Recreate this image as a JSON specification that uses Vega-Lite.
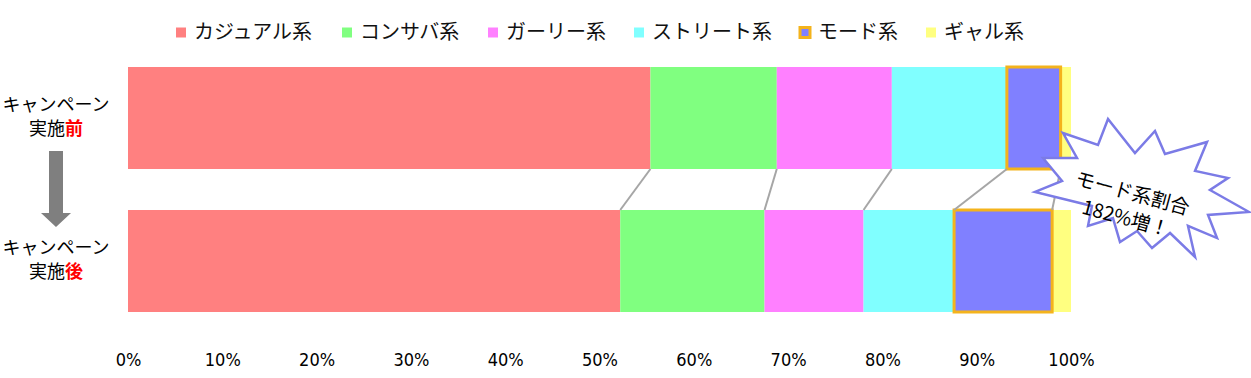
{
  "$schema": "https://vega.github.io/schema/vega-lite/v6.json",
  "width": 943,
  "height": 303,
  "autosize": {"type": "none"},
  "padding": {"left": 128, "top": 38, "right": 180, "bottom": 37},
  "config": {"view": {"stroke": null}, "font": "Noto Sans CJK JP"},
  "datasets": {
    "share": [
      {"stage": "実施前", "cat": "カジュアル系", "v": 55.4, "o": 1},
      {"stage": "実施前", "cat": "コンサバ系", "v": 13.4, "o": 2},
      {"stage": "実施前", "cat": "ガーリー系", "v": 12.2, "o": 3},
      {"stage": "実施前", "cat": "ストリート系", "v": 12.2, "o": 4},
      {"stage": "実施前", "cat": "ギャル系", "v": 1.1, "o": 6},
      {"stage": "実施後", "cat": "カジュアル系", "v": 52.2, "o": 1},
      {"stage": "実施後", "cat": "コンサバ系", "v": 15.3, "o": 2},
      {"stage": "実施後", "cat": "ガーリー系", "v": 10.5, "o": 3},
      {"stage": "実施後", "cat": "ストリート系", "v": 9.6, "o": 4},
      {"stage": "実施後", "cat": "ギャル系", "v": 2.0, "o": 6},
      {"stage": "実施前", "cat": "モード系", "v": 5.7, "o": 5},
      {"stage": "実施後", "cat": "モード系", "v": 10.4, "o": 5}
    ],
    "stages": [
      {"stage": "実施前", "mark": "前"},
      {"stage": "実施後", "mark": "後"}
    ]
  },
  "layer": [
    {
      "data": {"name": "share"},
      "mark": {"type": "bar", "strokeWidth": 3, "strokeJoin": "miter"},
      "encoding": {
        "y": {"field": "stage", "type": "nominal", "scale": {"domain": ["実施前", "実施後"], "paddingInner": 0.287, "paddingOuter": 0.203}, "axis": null},
        "x": {"field": "v", "type": "quantitative", "stack": "zero", "scale": {"domain": [0, 100], "nice": false},
          "axis": {"title": null, "grid": false, "domain": false, "ticks": false, "values": [0,10,20,30,40,50,60,70,80,90,100], "labelExpr": "datum.value + '%'", "labelFont": "Liberation Sans Narrow, DejaVu Sans Condensed, sans-serif", "labelFontSize": 18, "labelColor": "#000000", "labelPadding": 10, "labelFlush": false}},
        "order": {"field": "o", "type": "quantitative"},
        "fill": {"field": "cat", "type": "nominal",
          "scale": {"domain": ["カジュアル系", "コンサバ系", "ガーリー系", "ストリート系", "モード系", "ギャル系"], "range": ["#ff8080", "#80ff80", "#ff80ff", "#80ffff", "#8080ff", "#ffff80"]},
          "legend": {"title": null, "orient": "none", "legendX": 43, "legendY": -15.5, "direction": "horizontal", "columns": 6, "symbolType": "square", "symbolSize": 100, "symbolStrokeWidth": 3, "labelFont": "Noto Sans CJK JP", "labelFontSize": 20, "labelColor": "#111111", "labelOffset": 3, "columnPadding": 22, "labelLimit": 300, "padding": 0}},
        "stroke": {"field": "cat", "type": "nominal",
          "scale": {"domain": ["カジュアル系", "コンサバ系", "ガーリー系", "ストリート系", "モード系", "ギャル系"], "range": ["transparent", "transparent", "transparent", "transparent", "#f4b31c", "transparent"]},
          "legend": {"title": null, "orient": "none", "legendX": 43, "legendY": -15.5, "direction": "horizontal", "columns": 6, "symbolType": "square", "symbolSize": 100, "symbolStrokeWidth": 3, "labelFont": "Noto Sans CJK JP", "labelFontSize": 20, "labelColor": "#111111", "labelOffset": 3, "columnPadding": 22, "labelLimit": 300, "padding": 0}}
      }
    },
    {
      "data": {"name": "share"},
      "transform": [
        {"stack": "v", "groupby": ["stage"], "sort": [{"field": "o"}], "as": ["s0", "s1"]},
        {"filter": "datum.cat !== 'ギャル系'"},
        {"pivot": "stage", "value": "s1", "groupby": ["cat"]}
      ],
      "mark": {"type": "rule", "color": "#a6a6a6", "strokeWidth": 2},
      "encoding": {
        "x": {"field": "実施前", "type": "quantitative"},
        "x2": {"field": "実施後"},
        "y": {"datum": "実施前", "type": "nominal", "bandPosition": 1},
        "y2": {"datum": "実施後", "bandPosition": 0}
      }
    },
    {
      "data": {"values": [{"note": "モード系割合"}]},
      "mark": {"type": "point", "shape": "M -0.309 -0.627 L -0.064 -0.318 L 0.118 -0.518 L 0.209 -0.309 L 0.591 -0.418 L 0.482 -0.155 L 0.782 -0.091 L 0.618 0.018 L 0.973 0.218 L 0.6 0.245 L 0.682 0.455 L 0.418 0.345 L 0.482 0.627 L 0.255 0.409 L 0.091 0.545 L -0.045 0.391 L -0.2 0.491 L -0.264 0.273 L -0.491 0.345 L -0.455 0.164 L -0.973 0.036 L -0.727 -0.064 L -0.9 -0.273 L -0.591 -0.273 L -0.718 -0.5 L -0.4 -0.391 Z", "size": 48400, "filled": true, "fill": "#ffffff", "stroke": "#7b7be6", "strokeWidth": 2.5, "opacity": 1, "yOffset": 70},
      "encoding": {
        "x": {"datum": 107.53, "type": "quantitative"},
        "y": {"datum": "実施前", "type": "nominal"}
      }
    },
    {
      "data": {"values": [{"note": "モード系割合"}]},
      "mark": {"type": "text", "fontSize": 19.5, "lineHeight": 26, "angle": 15, "align": "center", "baseline": "middle", "color": "#000000", "yOffset": 76},
      "encoding": {
        "x": {"datum": 106.5, "type": "quantitative"},
        "y": {"datum": "実施前", "type": "nominal"},
        "text": {"value": ["モード系割合", "182%増！"]}
      }
    },
    {
      "data": {"values": [{"note": "arrow"}]},
      "mark": {"type": "point", "shape": "M -0.184 -1 L 0.184 -1 L 0.184 0.63 L 0.395 0.63 L 0 1 L -0.395 0.63 L -0.184 0.63 Z", "size": 5776, "filled": true, "fill": "#7f7f7f", "strokeWidth": 0, "opacity": 1, "yOffset": 71},
      "encoding": {
        "x": {"datum": -7.635, "type": "quantitative"},
        "y": {"datum": "実施前", "type": "nominal"}
      }
    },
    {
      "data": {"name": "stages"},
      "mark": {"type": "text", "fontSize": 18, "align": "center", "baseline": "middle", "color": "#000000", "dy": -12},
      "encoding": {
        "x": {"datum": -7.635, "type": "quantitative"},
        "y": {"field": "stage", "type": "nominal"},
        "text": {"value": "キャンペーン"}
      }
    },
    {
      "data": {"name": "stages"},
      "mark": {"type": "text", "fontSize": 18, "align": "right", "baseline": "middle", "color": "#000000", "dy": 12},
      "encoding": {
        "x": {"datum": -6.68, "type": "quantitative"},
        "y": {"field": "stage", "type": "nominal"},
        "text": {"value": "実施"}
      }
    },
    {
      "data": {"name": "stages"},
      "mark": {"type": "text", "fontSize": 18, "fontWeight": "bold", "align": "left", "baseline": "middle", "color": "#ff0000", "dy": 12},
      "encoding": {
        "x": {"datum": -6.68, "type": "quantitative"},
        "y": {"field": "stage", "type": "nominal"},
        "text": {"field": "mark"}
      }
    }
  ]
}
